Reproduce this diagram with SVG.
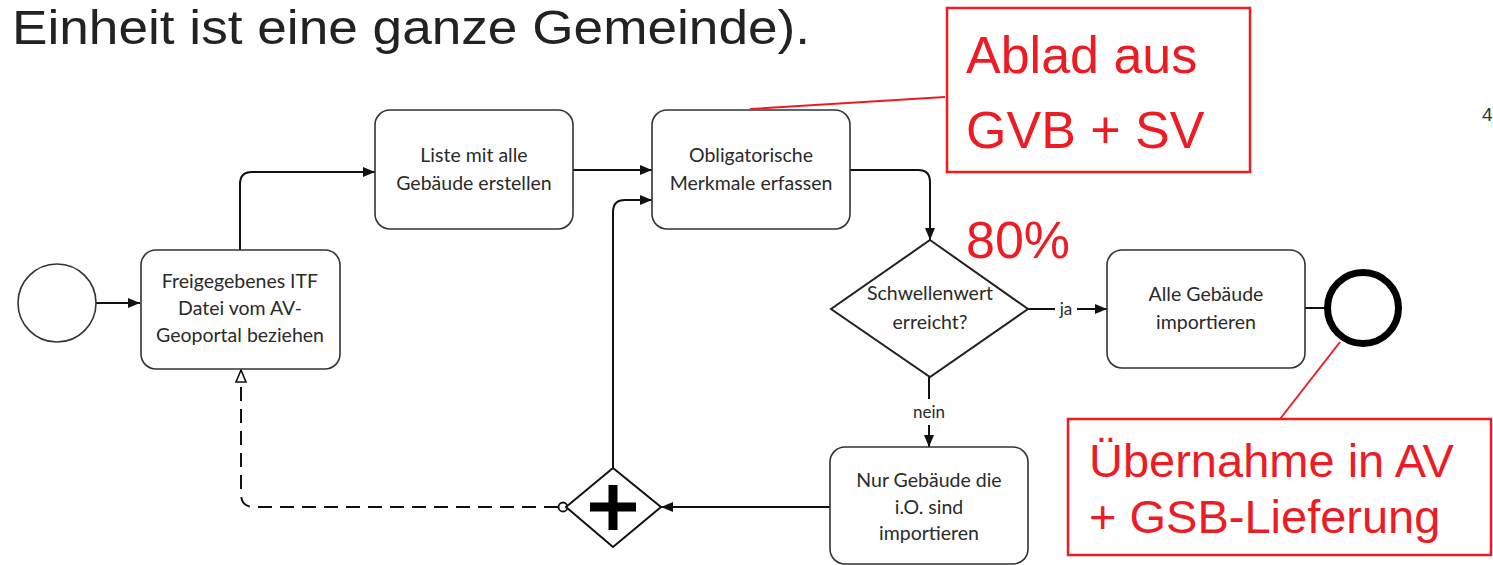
<svg xmlns="http://www.w3.org/2000/svg" width="1493" height="565" viewBox="0 0 1493 565">
<defs>
<style>
.task rect{fill:#fff;stroke:#333;stroke-width:1.6}
.nt{font-family:Lato,"Open Sans",sans-serif;font-size:19.5px;fill:#2a2a2a;text-anchor:middle}
.conn{fill:none;stroke:#111;stroke-width:2}
.red{font-family:"Liberation Sans",Arial,sans-serif;fill:#ed1c24}
.redbox{fill:none;stroke:#ed1c24;stroke-width:2.5}
.redline{stroke:#ed1c24;stroke-width:2;fill:none}
</style>
<marker id="arr" viewBox="0 0 12 10" refX="12" refY="5" markerWidth="12" markerHeight="10" markerUnits="userSpaceOnUse" orient="auto">
<path d="M0,0 L12,5 L0,10 Z" fill="#111"/>
</marker>
<marker id="hollow" viewBox="0 0 14 12" refX="13" refY="6" markerWidth="14" markerHeight="12" markerUnits="userSpaceOnUse" orient="auto">
<path d="M1,1 L13,6 L1,11 Z" fill="#fff" stroke="#111" stroke-width="1.6"/>
</marker>
</defs>
<rect width="1493" height="565" fill="#fff"/>
<text x="12" y="44" font-family="Liberation Sans, Arial, sans-serif" font-size="48" fill="#222" textLength="798" lengthAdjust="spacingAndGlyphs">Einheit ist eine ganze Gemeinde).</text>
<text x="1482" y="121" font-family="Liberation Sans, Arial, sans-serif" font-size="19" fill="#333">4</text>

<g id="connectors">
<path class="conn" d="M96,303 L140,303" marker-end="url(#arr)"/>
<path class="conn" d="M240,250 L240,184 Q240,172 252,172 L375,172" marker-end="url(#arr)"/>
<path class="conn" d="M573,170 L652,170" marker-end="url(#arr)"/>
<path class="conn" d="M850,170 L918,170 Q930,170 930,182 L930,240" marker-end="url(#arr)"/>
<path class="conn" d="M1028,309 L1055,309"/>
<path class="conn" d="M1077,309 L1107,309" marker-end="url(#arr)"/>
<text x="1066" y="315" class="nt" style="font-size:17px">ja</text>
<path class="conn" d="M929,377 L929,399"/>
<path class="conn" d="M929,425 L929,447" marker-end="url(#arr)"/>
<text x="929" y="418" class="nt" style="font-size:17px">nein</text>
<path class="conn" d="M1305,308 L1327,308"/>
<path class="conn" d="M830,507 L661,507" marker-end="url(#arr)"/>
<path class="conn" d="M613,468 L613,212 Q613,200 625,200 L652,200" marker-end="url(#arr)"/>
<path class="conn" d="M558,507 L254,507 Q241,507 241,494 L241,370" stroke-dasharray="14,8" marker-end="url(#hollow)"/>
<circle cx="563" cy="507" r="4.5" fill="#fff" stroke="#111" stroke-width="1.8"/>
</g>

<g id="start">
<circle cx="57" cy="303" r="39" fill="#fff" stroke="#333" stroke-width="1.6"/>
</g>
<g id="task1" class="task">
<rect x="141" y="250" width="199" height="119" rx="15"/>
<text class="nt" x="240" y="288">Freigegebenes ITF</text>
<text class="nt" x="240" y="315">Datei vom AV-</text>
<text class="nt" x="240" y="342">Geoportal beziehen</text>
</g>
<g id="task2" class="task">
<rect x="375" y="110" width="198" height="119" rx="15"/>
<text class="nt" x="474" y="162">Liste mit alle</text>
<text class="nt" x="474" y="190">Gebäude erstellen</text>
</g>
<g id="task3" class="task">
<rect x="652" y="110" width="198" height="119" rx="15"/>
<text class="nt" x="751" y="162">Obligatorische</text>
<text class="nt" x="751" y="190">Merkmale erfassen</text>
</g>
<g id="gateway1">
<path d="M930,240 L1028,309 L930,377 L831,309 Z" fill="#fff" stroke="#222" stroke-width="2"/>
<text class="nt" x="930" y="300">Schwellenwert</text>
<text class="nt" x="930" y="329">erreicht?</text>
</g>
<g id="task4" class="task">
<rect x="1107" y="250" width="198" height="118" rx="15"/>
<text class="nt" x="1206" y="301">Alle Gebäude</text>
<text class="nt" x="1206" y="329">importieren</text>
</g>
<g id="end">
<circle cx="1363" cy="308" r="35.5" fill="#fff" stroke="#000" stroke-width="7"/>
</g>
<g id="task5" class="task">
<rect x="830" y="447" width="198" height="117" rx="15"/>
<text class="nt" x="929" y="487">Nur Gebäude die</text>
<text class="nt" x="929" y="514">i.O. sind</text>
<text class="nt" x="929" y="540">importieren</text>
</g>
<g id="gateway2">
<path d="M613,468 L661,507 L613,547 L566,507 Z" fill="#fff" stroke="#111" stroke-width="2"/>
<path d="M590,507 L636,507 M613,485 L613,530" stroke="#000" stroke-width="9"/>
</g>

<g id="note1">
<path class="redline" d="M750,109 L945,97"/>
<rect class="redbox" x="947" y="8" width="303" height="164"/>
<text class="red" x="966" y="73" font-size="52">Ablad aus</text>
<text class="red" x="966" y="148" font-size="52">GVB + SV</text>
</g>
<g id="note80">
<text class="red" x="966" y="258" font-size="52">80%</text>
</g>
<g id="note2">
<path class="redline" d="M1340,342 L1280,419"/>
<rect class="redbox" x="1068" y="419" width="423" height="136"/>
<text class="red" x="1089" y="477" font-size="47">Übernahme in AV</text>
<text class="red" x="1089" y="533" font-size="47">+ GSB-Lieferung</text>
</g>
</svg>
